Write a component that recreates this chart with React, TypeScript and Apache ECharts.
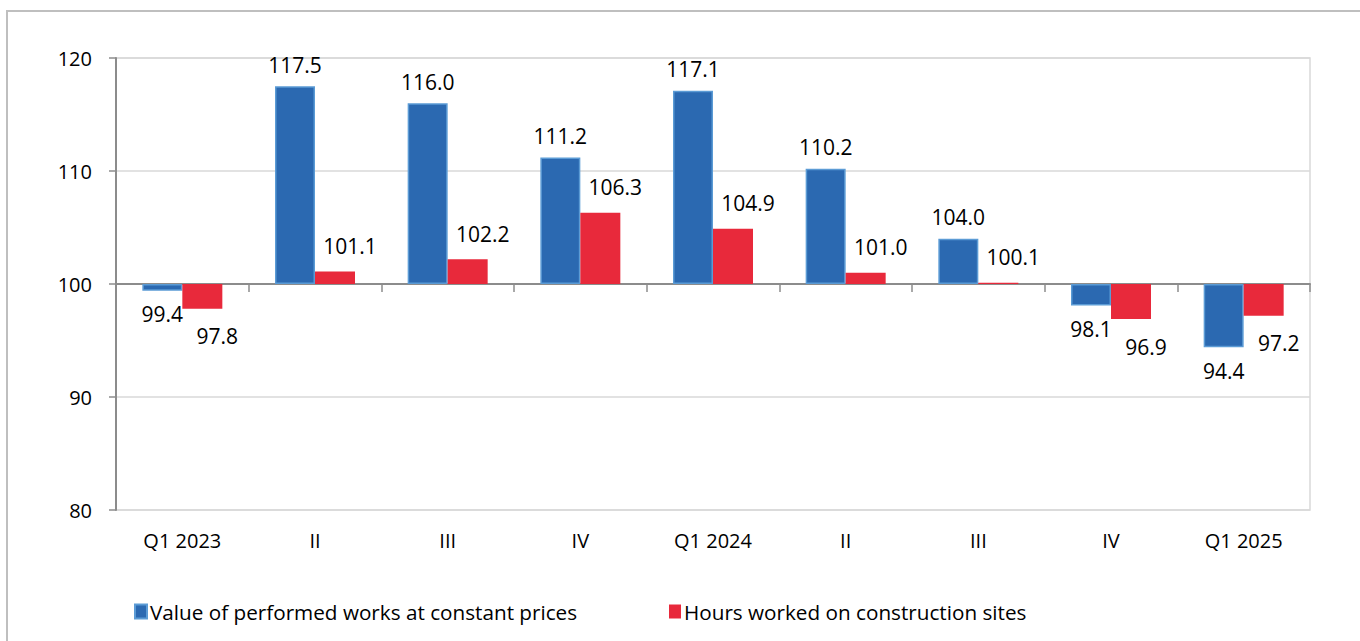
import React, { useEffect, useRef } from "react";
import * as echarts from "echarts";

const categories = ["Q1 2023", "II", "III", "IV", "Q1 2024", "II", "III", "IV", "Q1 2025"];
const valueWorks = [99.4, 117.5, 116.0, 111.2, 117.1, 110.2, 104.0, 98.1, 94.4];
const hoursWorked = [97.8, 101.1, 102.2, 106.3, 104.9, 101.0, 100.1, 96.9, 97.2];
const seriesNames = ["Value of performed works at constant prices", "Hours worked on construction sites"];
const baseLevel = 100;
const yTicks = [80, 90, 100, 110, 120];

const FONT = "'Open Sans', 'Noto Sans', sans-serif";

export default function App() {
  const ref = useRef<HTMLDivElement>(null);
  useEffect(() => {
    if (!ref.current) return;
    const chart = echarts.init(ref.current, undefined, { renderer: "svg" });
    const mk = (vals: number[], isRed: boolean) =>
      vals.map((v) => ({
        value: +(v - baseLevel).toFixed(2),
        label: {
          position: v < baseLevel ? "bottom" : "top",
          distance: isRed ? (v < baseLevel ? 17 : 15) : v < baseLevel ? 13 : 11,
          offset: isRed ? [15, 0] : [0, 0],
        },
      }));
    const labelCommon = {
      show: true,
      fontSize: 21,
      fontFamily: FONT,
      color: "#000",
      formatter: (p: any) => (p.value + baseLevel).toFixed(1),
    };
    const legendText = { fontSize: 20.7, fontFamily: FONT, color: "#000", padding: [0, 0, 0, -2] };
    chart.setOption({
      animation: false,
      textStyle: { fontFamily: FONT },
      graphic: [
        {
          type: "rect",
          shape: { x: 7, y: 11, width: 1420, height: 700 },
          style: { fill: "none", stroke: "#bfbfbf", lineWidth: 2 },
          silent: true,
        },
      ],
      grid: {
        left: 116,
        top: 58,
        right: 50,
        bottom: 131,
        show: true,
        borderColor: "#d9d9d9",
        borderWidth: 1.5,
        containLabel: false,
      },
      legend: [
        {
          data: [seriesNames[0]],
          left: 129,
          top: 596,
          icon: "rect",
          itemWidth: 12,
          itemHeight: 14,
          itemGap: 0,
          textStyle: legendText,
        },
        {
          data: [seriesNames[1]],
          left: 664,
          top: 596,
          icon: "rect",
          itemWidth: 12,
          itemHeight: 14,
          itemGap: 0,
          textStyle: legendText,
        },
      ],
      xAxis: [
        {
          type: "category",
          data: categories,
          axisLine: { show: true, onZero: true, lineStyle: { color: "#8c8c8c", width: 2 } },
          axisTick: { show: true, length: 8, lineStyle: { color: "#8c8c8c", width: 1.5 } },
          axisLabel: { show: false },
          splitLine: { show: false },
        },
        {
          type: "category",
          data: categories,
          position: "bottom",
          axisLine: { show: false, onZero: false },
          axisTick: { show: false },
          axisLabel: { show: true, fontSize: 20, fontFamily: FONT, color: "#000", margin: 20 },
          splitLine: { show: false },
        },
      ],
      yAxis: {
        type: "value",
        min: yTicks[0] - baseLevel,
        max: yTicks[yTicks.length - 1] - baseLevel,
        interval: 10,
        axisLine: { show: true, lineStyle: { color: "#8c8c8c", width: 2 } },
        axisTick: { show: true, length: 7, lineStyle: { color: "#8c8c8c", width: 1.5 } },
        axisLabel: {
          fontSize: 20,
          fontFamily: FONT,
          color: "#000",
          margin: 24,
          formatter: (v: number) => String(v + baseLevel),
        },
        splitLine: { show: true, lineStyle: { color: "#d9d9d9", width: 1.5 } },
      },
      series: [
        {
          name: seriesNames[0],
          type: "bar",
          xAxisIndex: 0,
          barWidth: 40,
          barGap: "0%",
          itemStyle: { color: "#2b69b1", borderColor: "#5b9bd5", borderWidth: 1.5 },
          label: labelCommon,
          data: mk(valueWorks, false),
        },
        {
          name: seriesNames[1],
          type: "bar",
          xAxisIndex: 0,
          barWidth: 40,
          barGap: "0%",
          itemStyle: { color: "#e8293b" },
          label: labelCommon,
          data: mk(hoursWorked, true),
        },
      ],
    });
    return () => chart.dispose();
  }, []);
  return (
    <div
      ref={ref}
      style={{ position: "absolute", left: 0, top: 0, width: 1360, height: 641, background: "#fff" }}
    />
  );
}
